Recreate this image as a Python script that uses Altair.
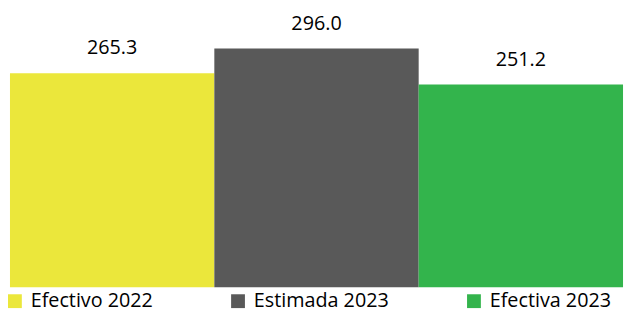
import altair as alt
import pandas as pd

categories = ["Efectivo 2022", "Estimada 2023", "Efectiva 2023"]
values = [265.3, 296.0, 251.2]
colors = ["#EBE73B", "#595959", "#33B44C"]

df = pd.DataFrame({"cat": categories, "val": values})
df["label"] = df["val"].map(lambda v: f"{v:.1f}")

PLOT_H = 281

x = alt.X("cat:N", sort=categories, axis=None,
          scale=alt.Scale(paddingInner=0, paddingOuter=0))
y = alt.Y("val:Q", axis=None, scale=alt.Scale(domain=[0, 343.7], nice=False, zero=True))

bars = alt.Chart(df).mark_bar(size=207).encode(
    x=x, y=y,
    color=alt.Color("cat:N", sort=categories,
                    scale=alt.Scale(domain=categories, range=colors),
                    legend=alt.Legend(orient="none", legendX=-5, legendY=PLOT_H + 4,
                                      direction="horizontal", title=None,
                                      symbolType="square", symbolSize=196,
                                      symbolStrokeWidth=0, labelFont="Open Sans",
                                      labelFontSize=20, labelColor="#000000",
                                      labelOffset=6, columnPadding=76,
                                      gridAlign="each", padding=0)),
)

text = alt.Chart(df).mark_text(baseline="alphabetic", dy=-19, font="Open Sans",
                                fontSize=20, color="#000000").encode(
    x=x, y=y, text="label:N")

chart = (bars + text).properties(
    width=621, height=PLOT_H, background="#FFFFFF",
    padding={"left": -3, "right": 2, "top": 0, "bottom": 0},
).configure_view(strokeWidth=0, stroke="transparent")

chart.save("out.html", embed_options={"renderer": "svg", "actions": False})
